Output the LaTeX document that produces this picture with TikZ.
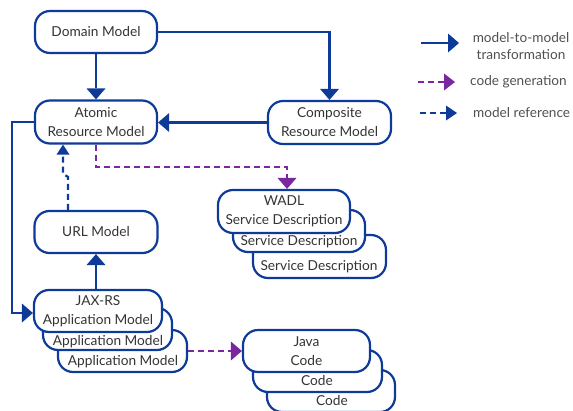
\documentclass[tikz,border=0pt]{standalone}
\usepackage{fontspec}
\setmainfont{Lato}
\usetikzlibrary{arrows.meta,calc}
\definecolor{mblue}{RGB}{14,58,152}
\definecolor{mpurple}{RGB}{122,38,160}
\definecolor{mtext}{RGB}{52,52,52}
\definecolor{ltext}{RGB}{80,80,80}
\tikzset{
  model/.style={draw=mblue, line width=2.2pt, fill=white, rounded corners=15pt,
    minimum height=42pt, inner sep=0pt, align=center, text=mtext, font=\fontsize{13.7}{19}\selectfont},
  lbl/.style={text=mtext, font=\fontsize{13.7}{19}\selectfont, inner sep=0pt},
  tip/.style={-{Triangle[width=19pt,length=11pt,line width=0pt]}},
  smalltip/.style={-{Triangle[width=13pt,length=10pt,line width=0pt]}},
  m2m/.style={draw=mblue, line width=2.2pt, tip},
  gen/.style={draw=mpurple, line width=1.8pt, dash pattern=on 6pt off 4pt, tip},
  ref/.style={draw=mblue, line width=2.2pt, dash pattern=on 6pt off 4pt, tip},
  legtext/.style={text=ltext, inner sep=0pt, font=\fontsize{13.6}{17}\selectfont},
}
\begin{document}
\begin{tikzpicture}[x=1pt,y=-1pt]
\useasboundingbox (0,0) rectangle (573,410);

% plain models
\node[model, minimum width=122pt] (dom) at (96,32) {Domain Model};
\node[model, minimum width=122pt, minimum height=43pt] (atom) at (96,122) {Atomic\\Resource Model};
\node[model, minimum width=123pt, minimum height=43pt] (comp) at (329.5,122.5) {Composite\\Resource Model};
\node[model, minimum width=123pt] (url) at (96,232) {URL Model};

% JAX-RS application model stack
\node[model, minimum width=129pt] (jax3) at (122.5,351) {};
\node[model, minimum width=129pt] (jax2) at (107.5,329) {};
\node[model, minimum width=128pt] (jax1) at (98,311) {JAX-RS\\Application Model};
\node[lbl] (jax2t) at (108,342) {Application Model};
\node[lbl] (jax3t) at (123,362) {Application Model};

% WADL service description stack
\node[model, minimum width=133pt, minimum height=43pt] (wadl3) at (319.5,256.5) {};
\node[model, minimum width=132pt] (wadl2) at (299,231) {};
\node[model, minimum width=132pt, minimum height=43pt] (wadl1) at (284,211.5) {WADL\\Service Description};
\node[lbl] (wadl2t) at (299,242) {Service Description};
\node[lbl] (wadl3t) at (319,267) {Service Description};

% Java code stack
\node[model, minimum width=128pt] (java3) at (331,391) {};
\node[model, minimum width=129pt] (java2) at (317.5,371) {};
\node[model, minimum width=127pt] (java1) at (306.5,351) {Java\\Code};
\node[lbl] (java2t) at (317,381) {Code};
\node[lbl] (java3t) at (332,401) {Code};

% model-to-model transformations
\draw[m2m] (dom.south) -- (atom.north);
\draw[m2m] (dom.east) -| (comp.north);
\draw[m2m] (comp.west) -- (comp.west -| atom.east);
\draw[m2m] (atom.west) -- ++(-22,0) |- ([yshift=-2pt]jax1.west);
\draw[m2m] (jax1.north -| url.south) -- (url.south);

% model reference
\draw[ref, smalltip] ([xshift=-28pt]url.north) -- ++(0,-33) -- ++(-5,-3) coordinate (jog) -- (jog |- atom.south);

% code generation
\draw[gen] (atom.south) -- ++(0,22.5) -| ([xshift=3pt]wadl1.north);
\draw[gen] (jax3.east) -- (java1.west);

% legend
\coordinate (l1a) at (421,43); \coordinate (l1b) at (459,43);
\coordinate (l2a) at (418,82); \coordinate (l2b) at (455,82);
\coordinate (l3a) at (420,113); \coordinate (l3b) at (457,113);
\draw[m2m] (l1a) -- (l1b);
\draw[gen, -{Triangle[width=17pt,length=11pt,line width=0pt]}] (l2a) -- (l2b);
\draw[ref, -{Triangle[width=15pt,length=11pt,line width=0pt]}] (l3a) -- (l3b);
\node[legtext, align=center] (leg1) at (521,46.5) {model-to-model\\transformation};
\node[legtext, anchor=west] (leg2) at (470,82) {code generation};
\node[legtext, anchor=west] (leg3) at (473,113) {model reference};
\end{tikzpicture}
\end{document}
